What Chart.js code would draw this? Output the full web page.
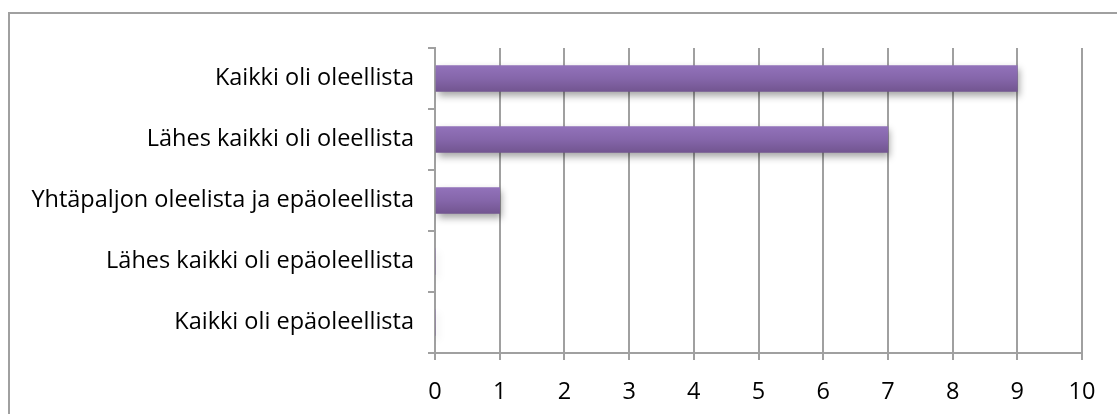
<!DOCTYPE html>
<html>
<head>
<meta charset="utf-8">
<script src="https://cdn.jsdelivr.net/npm/chart.js@4/dist/chart.umd.min.js"></script>
<style>
  html, body { margin: 0; padding: 0; background: #fff; overflow: hidden; }
  #wrap { position: relative; width: 1117px; height: 414px; overflow: hidden; }
  #frame {
    position: absolute; left: 8px; top: 12px; width: 1200px; height: 500px;
    border-left: 2px solid #a0a0a0; border-top: 2px solid #a0a0a0;
  }
  canvas { position: absolute; left: 0; top: 0; }
</style>
</head>
<body>
<div id="wrap">
  <div id="frame"></div>
  <canvas id="chart" width="1117" height="414"></canvas>
</div>
<script>
const categories = [
  'Kaikki oli oleellista',
  'Lähes kaikki oli oleellista',
  'Yhtäpaljon oleelista ja epäoleellista',
  'Lähes kaikki oli epäoleellista',
  'Kaikki oli epäoleellista'
]
const answers = [9, 7, 1, 0, 0]
const xTicks = [0, 1, 2, 3, 4, 5, 6, 7, 8, 9, 10]

const gridColor = '#a0a0a0'
const font = { family: '"Open Sans", Lato, sans-serif', size: 23.5 }

// soft shadow under the bars
const barShadow = {
  id: 'barShadow',
  beforeDatasetsDraw(chart) {
    const ctx = chart.ctx
    ctx.save()
    ctx.shadowColor = 'rgba(0, 0, 0, 0.35)'
    ctx.shadowBlur = 7
    ctx.shadowOffsetX = 2
    ctx.shadowOffsetY = 4
  },
  afterDatasetsDraw(chart) {
    chart.ctx.restore()
  }
}

function barGradient(c) {
  const chart = c.chart
  const y = chart.scales.y
  if (!y || c.dataIndex === undefined) return '#8566aa'
  const mid = y.getPixelForValue(c.dataIndex)
  if (!isFinite(mid)) return '#8566aa'
  const g = chart.ctx.createLinearGradient(0, mid - 13, 0, mid + 13)
  g.addColorStop(0, '#9272ba')
  g.addColorStop(0.5, '#8566aa')
  g.addColorStop(1, '#725590')
  return g
}

new Chart(document.getElementById('chart').getContext('2d'), {
  type: 'bar',
  data: {
    labels: categories,
    datasets: [{
      data: answers,
      backgroundColor: barGradient,
      borderWidth: 0,
      barThickness: 26
    }]
  },
  plugins: [barShadow],
  options: {
    indexAxis: 'y',
    responsive: false,
    animation: false,
    layout: { padding: { top: 48, right: 35, left: 0, bottom: 0 } },
    plugins: {
      legend: { display: false },
      tooltip: { enabled: false }
    },
    scales: {
      x: {
        min: 0,
        max: 10,
        afterBuildTicks: (scale) => { scale.ticks = xTicks.map(v => ({ value: v })) },
        afterFit: (scale) => { scale.height = 61 },
        grid: { color: gridColor, lineWidth: 2, tickLength: 7 },
        border: { color: gridColor, width: 2 },
        ticks: { color: '#000', font: font, padding: 18 }
      },
      y: {
        afterFit: (scale) => { scale.width = 435 },
        grid: { offset: true, drawOnChartArea: false, color: gridColor, lineWidth: 2, tickLength: 7 },
        border: { color: gridColor, width: 2 },
        ticks: { color: '#000', font: font, padding: 14 }
      }
    }
  }
})
</script>
</body>
</html>
